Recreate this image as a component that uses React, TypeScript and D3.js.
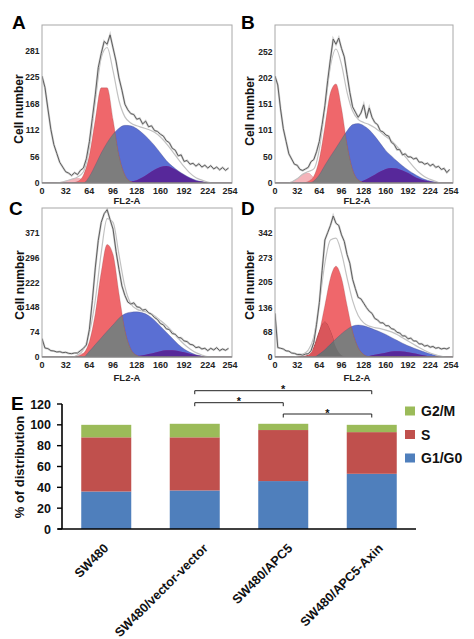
import React from "react";
import * as d3 from "d3";

// ================= Panel E (stacked bars) data =================
const groups = ["SW480", "SW480/vector-vector", "SW480/APC5", "SW480/APC5-Axin"];
const g1g0Pct = [36, 37, 46, 53];
const sPct = [52, 51, 49, 40];
const g2mPct = [12, 13, 6, 7];
const phaseKeys = ["G1/G0", "S", "G2/M"];
const phaseColors: Record<string, string> = { "G1/G0": "#4f7fbc", S: "#c0504d", "G2/M": "#9bbb59" };
const legendOrder = ["G2/M", "S", "G1/G0"];
const yTicksE = [0, 20, 40, 60, 80, 100, 120];
const comparisons = [
  { from: "SW480/vector-vector", to: "SW480/APC5-Axin", mark: "*" },
  { from: "SW480/vector-vector", to: "SW480/APC5", mark: "*" },
  { from: "SW480/APC5", to: "SW480/APC5-Axin", mark: "*" },
];

// ================= Histogram data (FL2-A channels) =================
const fl2Ticks = [0, 32, 64, 96, 128, 160, 192, 224, 254];
const rawChannels = d3.range(0, 253, 4); // 64 channel bins
const fitChannels = d3.range(0, 257, 8); // 33 model points

const yTicksA = [0, 56, 112, 168, 225, 281];
const yTicksB = [0, 50, 101, 151, 202, 252];
const yTicksC = [0, 74, 148, 222, 296, 371];
const yTicksD = [0, 68, 136, 205, 273, 342];

const rawA = [228, 204, 158, 114, 82, 63, 44, 34, 24, 21, 16, 22, 18, 27, 32, 52, 88, 138, 188, 246, 276, 302, 296, 316, 288, 260, 224, 198, 168, 156, 148, 146, 136, 138, 126, 132, 120, 122, 112, 110, 104, 100, 90, 86, 74, 70, 58, 60, 46, 48, 40, 42, 36, 41, 34, 38, 32, 37, 30, 34, 28, 33, 27, 32];
const debrisA = [0, 0, 0, 1, 4, 8, 10, 7, 3, 1, 0, 0, 0, 0, 0, 0, 0, 0, 0, 0, 0, 0, 0, 0, 0, 0, 0, 0, 0, 0, 0, 0, 0];
const g1A = [0, 0, 0, 0, 0, 0, 3, 17, 59, 135, 203, 203, 135, 59, 17, 3, 0, 0, 0, 0, 0, 0, 0, 0, 0, 0, 0, 0, 0, 0, 0, 0, 0];
const sA = [0, 0, 0, 0, 0, 0, 0, 0, 14, 38, 64, 86, 104, 117, 123, 122, 116, 106, 94, 80, 64, 48, 36, 26, 18, 11, 6, 3, 1, 0, 0, 0, 0];
const g2A = [0, 0, 0, 0, 0, 0, 0, 0, 0, 0, 0, 0, 0, 0, 1, 3, 6, 12, 20, 28, 34, 36, 32, 25, 17, 10, 5, 3, 1, 0, 0, 0, 0];

const rawB = [205, 188, 142, 104, 80, 56, 46, 36, 34, 26, 24, 27, 30, 41, 45, 60, 80, 112, 148, 196, 238, 276, 266, 278, 258, 242, 208, 174, 146, 136, 126, 134, 150, 124, 144, 126, 116, 112, 100, 98, 92, 90, 78, 74, 64, 64, 54, 56, 50, 50, 46, 48, 40, 40, 36, 38, 33, 36, 30, 32, 26, 28, 20, 26];
const debrisB = [0, 0, 0, 2, 8, 17, 19, 10, 3, 1, 0, 0, 0, 0, 0, 0, 0, 0, 0, 0, 0, 0, 0, 0, 0, 0, 0, 0, 0, 0, 0, 0, 0];
const g1B = [0, 0, 0, 0, 0, 0, 3, 13, 46, 108, 173, 190, 143, 74, 26, 6, 1, 0, 0, 0, 0, 0, 0, 0, 0, 0, 0, 0, 0, 0, 0, 0, 0];
const sB = [0, 0, 0, 0, 0, 0, 0, 4, 16, 34, 51, 67, 84, 100, 112, 114, 110, 102, 90, 76, 62, 52, 42, 33, 25, 18, 12, 7, 4, 2, 0, 0, 0];
const g2B = [0, 0, 0, 0, 0, 0, 0, 0, 0, 0, 0, 0, 0, 0, 0, 2, 5, 10, 16, 22, 27, 29, 28, 24, 19, 13, 8, 5, 3, 1, 0, 0, 0];

const rawC = [55, 27, 25, 19, 18, 15, 16, 13, 14, 11, 10, 12, 12, 19, 26, 36, 82, 168, 266, 348, 402, 428, 440, 410, 382, 316, 262, 212, 184, 164, 158, 162, 150, 148, 140, 142, 132, 128, 118, 112, 100, 96, 84, 82, 70, 68, 58, 57, 48, 46, 38, 36, 28, 30, 24, 26, 19, 26, 21, 28, 19, 24, 20, 26];
const debrisC = [0, 0, 0, 0, 0, 0, 4, 11, 9, 3, 1, 0, 0, 0, 0, 0, 0, 0, 0, 0, 0, 0, 0, 0, 0, 0, 0, 0, 0, 0, 0, 0, 0];
const g1C = [0, 0, 0, 0, 0, 0, 2, 11, 46, 130, 253, 336, 306, 190, 81, 24, 5, 0, 0, 0, 0, 0, 0, 0, 0, 0, 0, 0, 0, 0, 0, 0, 0];
const sC = [0, 0, 0, 0, 0, 0, 0, 0, 17, 37, 57, 77, 96, 116, 129, 134, 135, 132, 124, 110, 92, 74, 56, 38, 24, 14, 7, 3, 0, 0, 0, 0, 0];
const g2C = [0, 0, 0, 0, 0, 0, 0, 0, 0, 0, 0, 0, 0, 0, 0, 1, 3, 5, 9, 13, 17, 20, 20, 18, 14, 10, 6, 3, 1, 0, 0, 0, 0];

const rawD = [120, 26, 24, 22, 17, 16, 11, 10, 7, 7, 5, 8, 9, 17, 40, 90, 150, 238, 322, 342, 362, 388, 368, 362, 336, 318, 282, 258, 214, 188, 164, 160, 148, 136, 126, 120, 106, 102, 94, 94, 86, 86, 78, 76, 68, 66, 58, 58, 50, 52, 44, 44, 36, 36, 30, 32, 27, 29, 24, 26, 22, 24, 22, 26];
const debrisD = [0, 0, 0, 0, 2, 7, 7, 2, 0, 0, 0, 0, 0, 0, 0, 0, 0, 0, 0, 0, 0, 0, 0, 0, 0, 0, 0, 0, 0, 0, 0, 0, 0];
const g1D = [0, 0, 0, 0, 0, 1, 7, 26, 70, 142, 217, 250, 217, 142, 70, 26, 7, 1, 0, 0, 0, 0, 0, 0, 0, 0, 0, 0, 0, 0, 0, 0, 0];
const g1bD = [0, 0, 0, 0, 0, 0, 5, 27, 70, 96, 70, 27, 5, 0, 0, 0, 0, 0, 0, 0, 0, 0, 0, 0, 0, 0, 0, 0, 0, 0, 0, 0, 0];
const sD = [0, 0, 0, 0, 0, 0, 0, 0, 8, 20, 35, 50, 64, 76, 85, 88, 86, 81, 75, 69, 62, 54, 46, 38, 31, 25, 19, 14, 9, 5, 2, 0, 0];
const g2D = [0, 0, 0, 0, 0, 0, 0, 0, 0, 0, 0, 0, 0, 0, 0, 0, 1, 3, 6, 9, 12, 15, 16, 15, 13, 10, 7, 4, 2, 1, 0, 0, 0];

// ================= Layout =================
const FONT = "'Liberation Sans', Arial, Helvetica, sans-serif";
const labelDx = [3, 14, 10, 12];

type Layout = {
  left: number; right: number; xEnd: number; top: number; bottom: number;
  letterX: number; letterY: number; ylabX: number; ylabY: number; fl2X: number; fl2Y: number;
};

const panels = [
  { id: "A", yMax: 337, yTicks: yTicksA, raw: rawA, debris: debrisA, g1: g1A, g1b: null as number[] | null, s: sA, g2: g2A,
    layout: { left: 42, right: 232, xEnd: 230, top: 25, bottom: 183, letterX: 12, letterY: 29, ylabX: 23, ylabY: 109, fl2X: 127, fl2Y: 203.5 } },
  { id: "B", yMax: 303, yTicks: yTicksB, raw: rawB, debris: debrisB, g1: g1B, g1b: null, s: sB, g2: g2B,
    layout: { left: 275, right: 453, xEnd: 451, top: 25, bottom: 183, letterX: 241, letterY: 29, ylabX: 254, ylabY: 111, fl2X: 357, fl2Y: 203.5 } },
  { id: "C", yMax: 445, yTicks: yTicksC, raw: rawC, debris: debrisC, g1: g1C, g1b: null, s: sC, g2: g2C,
    layout: { left: 42, right: 232, xEnd: 230, top: 208, bottom: 357, letterX: 9, letterY: 215, ylabX: 24, ylabY: 285, fl2X: 127, fl2Y: 380.5 } },
  { id: "D", yMax: 410, yTicks: yTicksD, raw: rawD, debris: debrisD, g1: g1D, g1b: g1bD, s: sD, g2: g2D,
    layout: { left: 275, right: 453, xEnd: 451, top: 208, bottom: 357, letterX: 241, letterY: 215, ylabX: 254, ylabY: 285, fl2X: 357, fl2Y: 380.5 } },
];

function Histogram(p: {
  id: string; yMax: number; yTicks: number[]; raw: number[]; debris: number[];
  g1: number[]; g1b: number[] | null; s: number[]; g2: number[]; layout: Layout;
}) {
  const L = p.layout;
  const x = d3.scaleLinear().domain([0, 254]).range([L.left, L.xEnd]);
  const y = d3.scaleLinear().domain([0, p.yMax]).range([L.bottom, L.top]);
  const area = d3
    .area<number>()
    .x((_, i) => x(fitChannels[i]))
    .y0(L.bottom)
    .y1((d) => y(d))
    .curve(d3.curveMonotoneX);
  const line = d3
    .line<number>()
    .x((_, i) => x(rawChannels[i]))
    .y((d) => y(d));
  const sumLine = d3
    .line<number>()
    .x((_, i) => x(fitChannels[i]))
    .y((d) => y(d))
    .curve(d3.curveMonotoneX);
  const sum = fitChannels.map(
    (_, i) => p.debris[i] + p.g1[i] + (p.g1b ? p.g1b[i] : 0) + p.s[i] + p.g2[i]
  );
  const dDebris = area(p.debris) || "";
  const dG1 = area(p.g1) || "";
  const dG1b = p.g1b ? area(p.g1b) || "" : "";
  const dS = area(p.s) || "";
  const dG2 = area(p.g2) || "";
  const cid = (n: string) => `clip-${p.id}-${n}`;
  return (
    <g>
      <defs>
        <clipPath id={cid("frame")}>
          <rect x={L.left} y={L.top} width={L.right - L.left} height={L.bottom - L.top} />
        </clipPath>
        <clipPath id={cid("s")}>
          <path d={dS} />
        </clipPath>
        <clipPath id={cid("g1")}>
          <path d={dG1} />
        </clipPath>
        {p.g1b && (
          <clipPath id={cid("g1b")}>
            <path d={dG1b} />
          </clipPath>
        )}
      </defs>
      <rect x={L.left} y={L.top} width={L.right - L.left} height={L.bottom - L.top} fill="#fff" />
      <g clipPath={`url(#${cid("frame")})`}>
        <path d={dDebris} fill="#f5b4ba" stroke="#e79aa2" strokeWidth={0.5} />
        <path d={dS} fill="#5a6fd3" />
        <path d={dG2} fill="#8c46a8" />
        <path d={dG2} fill="#57289a" clipPath={`url(#${cid("s")})`} />
        <path d={dG1} fill="#ef676b" />
        {p.g1b && <path d={dG1b} fill="#ee6d70" stroke="#9a3a3e" strokeWidth={0.7} />}
        {p.g1b && <path d={dG1b} fill="#d9565b" clipPath={`url(#${cid("g1")})`} />}
        <path d={dS} fill="#7d7d7d" clipPath={`url(#${cid("g1")})`} />
        {p.g1b && <path d={dS} fill="#6f6f6f" clipPath={`url(#${cid("g1b")})`} />}
        <path d={dS} fill="none" stroke="#4b4b7a" strokeWidth={0.5} strokeOpacity={0.6} />
        <path d={dG1} fill="none" stroke="#8a3b3e" strokeWidth={0.5} strokeOpacity={0.5} />
        <path d={sumLine(sum) || ""} fill="none" stroke="#c2c2c2" strokeWidth={1.2} />
        <path d={line(p.raw) || ""} fill="none" stroke="#d2d2d2" strokeWidth={2.2} />
        <path d={line(p.raw) || ""} fill="none" stroke="#5e5e5e" strokeWidth={1} />
      </g>
      <rect x={L.left} y={L.top} width={L.right - L.left} height={L.bottom - L.top} fill="none" stroke="#a8a8a8" strokeWidth={1} />
      <line x1={L.left} x2={L.right} y1={L.bottom} y2={L.bottom} stroke="#777" strokeWidth={1.2} />
      {p.yTicks.map((t) => (
        <text key={t} x={L.left - 2.5} y={y(t)} dy="0.35em" textAnchor="end" fontSize={8.5} fontWeight="bold" fill="#222" fontFamily={FONT}>
          {t}
        </text>
      ))}
      {fl2Ticks.map((t) => (
        <text key={t} x={x(t)} y={L.bottom + 10.5} textAnchor="middle" fontSize={9} fontWeight="bold" fill="#222" fontFamily={FONT}>
          {t}
        </text>
      ))}
      <text x={L.fl2X} y={L.fl2Y} textAnchor="middle" fontSize={9.5} fontWeight="bold" fill="#222" fontFamily={FONT}>
        FL2-A
      </text>
      <text transform={`translate(${L.ylabX},${L.ylabY}) rotate(-90)`} textAnchor="middle" fontSize={12} fontWeight="bold" fill="#111" fontFamily={FONT}>
        Cell number
      </text>
      <text x={L.letterX} y={L.letterY} fontSize={19} fontWeight="bold" fill="#000" fontFamily={FONT}>
        {p.id}
      </text>
    </g>
  );
}

function BarPanel() {
  const axisLeft = 62;
  const axisRight = 416;
  const base = 529;
  const topY = 404;
  const xb = d3.scaleBand<string>().domain(groups).range([axisLeft, axisRight]).paddingInner(0.435).paddingOuter(0.2175);
  const y = d3.scaleLinear().domain([0, 120]).range([base, topY]);
  const rows = groups.map((g, i) => ({ group: g, "G1/G0": g1g0Pct[i], S: sPct[i], "G2/M": g2mPct[i] }));
  const stack = d3.stack<any>().keys(phaseKeys)(rows);
  const bracketY = [390.7, 402.7, 414];
  const cx = (g: string) => (xb(g) as number) + xb.bandwidth() / 2;
  return (
    <g fontFamily={FONT}>
      <text x={11} y={410} fontSize={19} fontWeight="bold" fill="#000">
        E
      </text>
      {stack.map((layer) =>
        layer.map((d, i) => (
          <rect
            key={layer.key + i}
            x={xb(groups[i])}
            width={xb.bandwidth()}
            y={y(d[1])}
            height={y(d[0]) - y(d[1])}
            fill={phaseColors[layer.key]}
          />
        ))
      )}
      <line x1={axisLeft} x2={axisLeft} y1={topY} y2={base} stroke="#000" strokeWidth={1.6} />
      <line x1={axisLeft - 4} x2={axisRight} y1={base} y2={base} stroke="#000" strokeWidth={1.6} />
      {yTicksE.map((t) => (
        <g key={t}>
          <line x1={axisLeft - 5} x2={axisLeft} y1={y(t)} y2={y(t)} stroke="#000" strokeWidth={1.4} />
          <text x={axisLeft - 11} y={y(t)} dy="0.36em" textAnchor="end" fontSize={12.5} fontWeight="bold" fill="#111">
            {t}
          </text>
        </g>
      ))}
      <text transform="translate(24,467) rotate(-90)" textAnchor="middle" fontSize={13} fontWeight="bold" fill="#111">
        % of distribution
      </text>
      {groups.map((g, i) => (
        <text key={g} transform={`translate(${cx(g) + labelDx[i]},549) rotate(-45)`} textAnchor="end" fontSize={12.7} fontWeight="bold" fill="#111">
          {g}
        </text>
      ))}
      {comparisons.map((c, i) => {
        const x1 = cx(c.from);
        const x2 = cx(c.to);
        const yy = bracketY[i];
        return (
          <g key={i}>
            <path d={`M${x1},${yy + 3.5}V${yy}H${x2}V${yy + 3.5}`} fill="none" stroke="#222" strokeWidth={1} />
            <text x={(x1 + x2) / 2} y={yy + 2.5} textAnchor="middle" fontSize={11} fontWeight="bold" fill="#111">
              {c.mark}
            </text>
          </g>
        );
      })}
      {legendOrder.map((k, i) => (
        <g key={k}>
          <rect x={405} y={406.5 + i * 23.5} width={10} height={9} fill={phaseColors[k]} />
          <text x={421} y={411 + i * 23.5} dy="0.36em" fontSize={14} fontWeight="bold" fill="#111">
            {k}
          </text>
        </g>
      ))}
    </g>
  );
}

export default function App() {
  return (
    <svg
      width={474}
      height={639}
      viewBox="0 0 474 639"
      style={{ position: "absolute", left: 0, top: 0, background: "#fff", display: "block" }}
    >
      <rect x={0} y={0} width={474} height={639} fill="#fff" />
      {panels.map((p) => (
        <Histogram key={p.id} {...p} />
      ))}
      <BarPanel />
    </svg>
  );
}
